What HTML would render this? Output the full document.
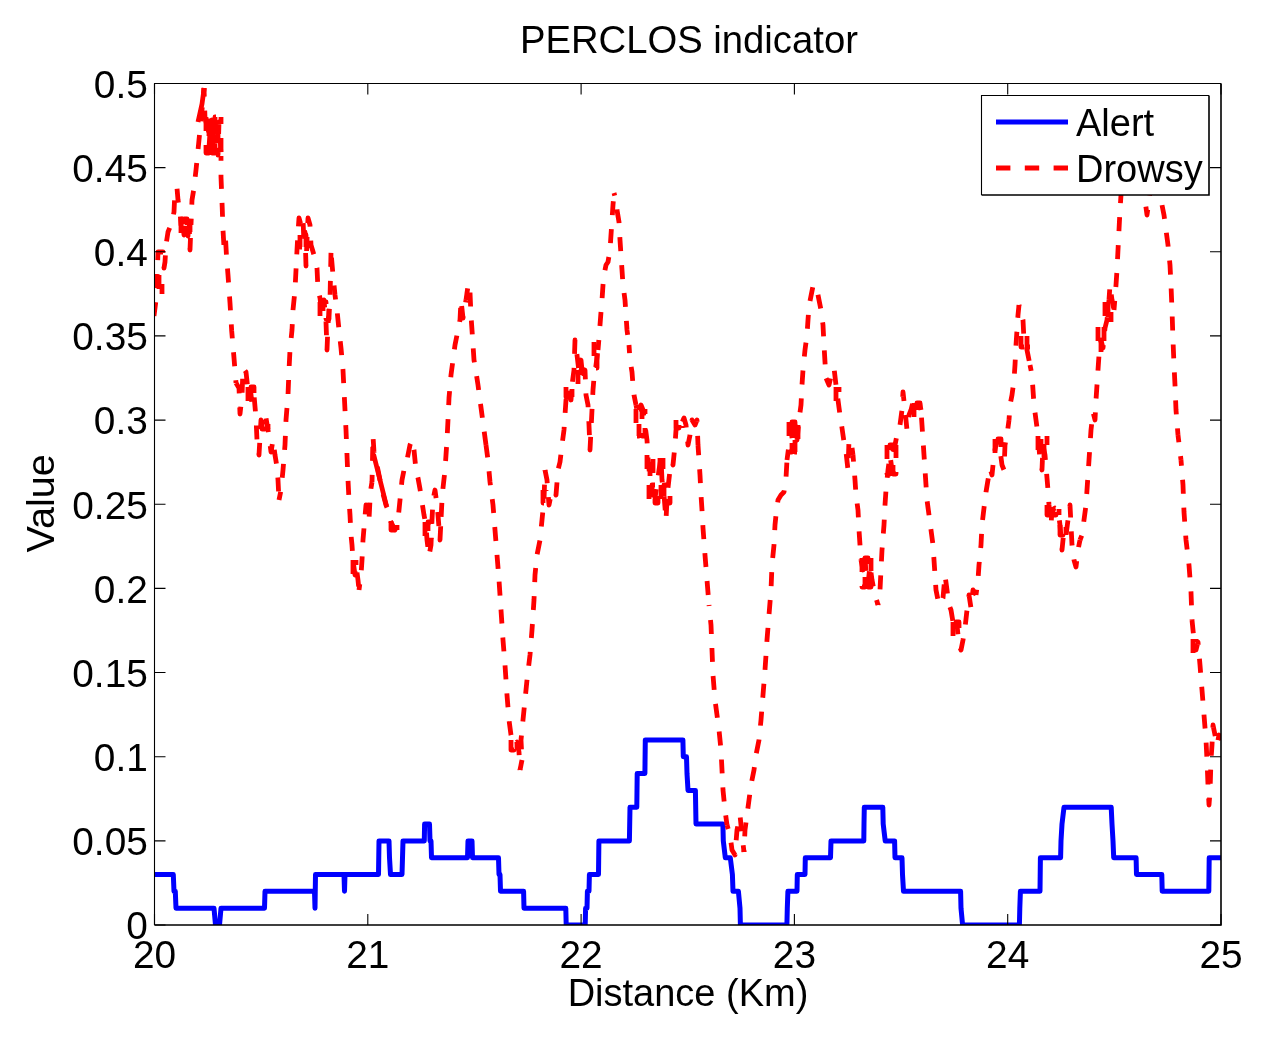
<!DOCTYPE html>
<html><head><meta charset="utf-8"><style>html,body{margin:0;padding:0;background:#fff;overflow:hidden}svg{display:block;will-change:transform}</style></head>
<body><svg width="1266" height="1040" viewBox="0 0 1266 1040">
<rect width="1266" height="1040" fill="#fff"/>
<defs><clipPath id="c"><rect x="154.5" y="83.5" width="1066.5" height="841.5"/></clipPath></defs><g clip-path="url(#c)">
<path d="M154.0,874.5 L173.3,874.5 L174.0,891.3 L175.3,891.3 L176.0,908.2 L214.0,908.2 L215.5,925.0 L219.5,925.0 L221.0,908.2 L264.5,908.2 L265.0,891.3 L314.5,891.3 L315.0,908.2 L315.5,874.5 L344.0,874.5 L344.5,891.3 L345.0,874.5 L378.5,874.5 L379.0,840.9 L389.0,840.9 L389.5,857.7 L390.5,874.5 L402.0,874.5 L402.5,857.7 L403.0,840.9 L424.3,840.9 L424.6,824.0 L429.5,824.0 L430.0,840.9 L431.0,840.9 L431.5,857.7 L467.5,857.7 L468.0,840.9 L472.0,840.9 L472.5,857.7 L498.5,857.7 L499.0,874.5 L500.0,874.5 L500.5,891.3 L523.6,891.3 L524.0,908.2 L565.8,908.2 L566.2,925.0 L585.2,925.0 L585.6,908.2 L587.0,908.2 L587.4,891.3 L589.0,891.3 L589.4,874.5 L598.5,874.5 L598.9,840.9 L629.4,840.9 L630.0,807.2 L636.8,807.2 L637.2,773.5 L644.9,773.5 L645.3,739.9 L682.9,739.9 L683.3,756.7 L686.5,756.7 L687.0,773.5 L688.0,790.4 L695.4,790.4 L696.0,824.0 L722.9,824.0 L723.3,840.9 L725.3,857.7 L730.3,857.7 L732.4,874.5 L733.0,891.3 L738.4,891.3 L740.0,908.2 L740.4,925.0 L786.9,925.0 L787.3,908.2 L787.9,891.3 L797.0,891.3 L797.3,874.5 L805.0,874.5 L805.3,857.7 L830.5,857.7 L831.0,840.9 L863.8,840.9 L864.0,824.0 L864.3,807.2 L882.8,807.2 L883.2,824.0 L885.2,840.9 L894.6,840.9 L895.0,857.7 L902.0,857.7 L902.5,874.5 L903.5,891.3 L960.6,891.3 L961.0,908.2 L962.6,925.0 L1019.4,925.0 L1019.8,908.2 L1020.4,891.3 L1040.0,891.3 L1040.4,857.7 L1060.6,857.7 L1061.0,840.9 L1062.0,824.0 L1064.0,807.2 L1111.2,807.2 L1112.0,824.0 L1113.0,840.9 L1113.7,857.7 L1136.1,857.7 L1136.5,874.5 L1161.8,874.5 L1162.2,891.3 L1208.8,891.3 L1209.2,857.7 L1221.5,857.7" fill="none" stroke="#0000ff" stroke-width="5" stroke-linejoin="round" stroke-linecap="round"/>
<path d="M154.0,316.0 L156.0,300.0 L157.0,282.0 L158.0,252.0 L163.0,252.0 L164.0,268.0 L165.0,262.0 L166.0,245.0 L168.0,232.0 L172.0,222.0 L174.0,212.0 L175.0,190.0 L177.0,188.0 L178.0,200.0 L180.0,212.0 L181.0,225.0 L182.0,218.0 L184.0,235.0 L186.0,220.0 L188.0,236.0 L189.0,218.0 L190.0,250.0 L191.0,225.0" fill="none" stroke="#ff0000" stroke-width="4.8" stroke-dasharray="14 14" stroke-dashoffset="0.0" stroke-linejoin="round"/>
<path d="M191.0,225.0 L192.0,200.0 L194.0,188.0 L196.0,170.0 L198.0,150.0 L200.0,130.0 L202.0,110.0 L204.0,88.0" fill="none" stroke="#ff0000" stroke-width="4.8" stroke-dasharray="14 14" stroke-dashoffset="7.6" stroke-linejoin="round"/>
<path d="M204.0,88.0 L205.0,118.0 L207.0,126.0 L208.0,116.0 L209.0,148.0 L210.0,132.0 L211.0,150.0 L212.0,120.0 L213.0,145.0 L214.0,126.0 L215.0,150.0 L216.0,118.0 L217.0,140.0 L218.0,155.0 L219.0,122.0 L220.0,135.0 L221.0,156.0" fill="none" stroke="#ff0000" stroke-width="4.8" stroke-dasharray="14 14" stroke-dashoffset="5.3" stroke-linejoin="round"/>
<path d="M221.0,156.0 L221.0,177.0 L222.2,207.0 L223.0,230.0 L224.0,247.0 L225.5,238.0 L226.5,256.0 L228.0,275.0 L230.0,303.0 L231.7,331.0 L234.0,358.0 L236.0,383.0" fill="none" stroke="#ff0000" stroke-width="4.8" stroke-dasharray="14 14" stroke-dashoffset="9.2" stroke-linejoin="round"/>
<path d="M236.0,383.0 L239.0,388.0 L240.0,414.0 L242.0,396.0 L243.0,368.0 L246.0,372.0 L248.0,390.0 L250.0,385.0 L252.0,404.0 L254.0,395.0 L256.0,418.0 L257.0,440.0 L259.0,455.0 L261.0,420.0 L264.0,428.0 L266.0,418.0 L268.0,430.0 L269.0,436.0 L271.0,452.0 L273.0,440.0 L275.0,455.0 L277.0,467.0 L278.0,480.0 L279.0,500.0" fill="none" stroke="#ff0000" stroke-width="4.8" stroke-dasharray="14 14" stroke-dashoffset="2.8" stroke-linejoin="round"/>
<path d="M279.0,500.0 L281.0,490.0 L283.0,470.0 L285.0,445.0 L286.0,420.0 L288.0,395.0 L289.0,370.0 L290.0,350.0 L292.0,330.0 L293.0,310.0 L295.0,290.0 L296.0,270.0 L297.0,250.0 L298.0,232.0" fill="none" stroke="#ff0000" stroke-width="4.8" stroke-dasharray="14 14" stroke-dashoffset="5.5" stroke-linejoin="round"/>
<path d="M298.0,232.0 L299.0,218.0 L301.0,225.0 L303.0,218.0 L304.0,245.0 L305.0,232.0 L306.0,266.0 L307.0,240.0 L308.0,218.0 L310.0,225.0 L311.0,245.0 L314.0,255.0 L317.0,268.0 L318.0,290.0 L320.0,298.0 L322.0,315.0 L324.0,300.0 L326.0,322.0 L327.0,350.0 L328.0,325.0 L330.0,300.0 L331.0,252.0" fill="none" stroke="#ff0000" stroke-width="4.8" stroke-dasharray="14 14" stroke-dashoffset="22.3" stroke-linejoin="round"/>
<path d="M331.0,252.0 L333.0,275.0 L335.0,295.0 L337.0,310.0 L339.0,330.0 L341.0,348.0 L343.0,370.0 L344.0,390.0 L345.0,410.0 L346.0,430.0 L347.0,455.0 L348.0,480.0 L349.0,500.0 L350.0,515.0 L351.0,535.0 L352.0,545.0 L353.0,560.0 L355.0,575.0 L356.0,565.0" fill="none" stroke="#ff0000" stroke-width="4.8" stroke-dasharray="14 14" stroke-dashoffset="22.3" stroke-linejoin="round"/>
<path d="M356.0,565.0 L358.0,580.0 L359.0,590.0" fill="none" stroke="#ff0000" stroke-width="4.8" stroke-dasharray="14 14" stroke-dashoffset="20.4" stroke-linejoin="round"/>
<path d="M359.0,590.0 L361.0,575.0 L362.0,560.0 L363.0,540.0 L364.0,528.0 L366.0,505.0 L369.0,520.0 L370.0,500.0 L371.0,488.0 L372.0,482.0" fill="none" stroke="#ff0000" stroke-width="4.8" stroke-dasharray="14 14" stroke-dashoffset="8.1" stroke-linejoin="round"/>
<path d="M372.0,482.0 L373.0,436.0 L374.0,452.0 L378.0,470.0 L382.0,490.0 L386.0,505.0 L388.0,510.0 L390.0,520.0 L395.0,530.0 L398.0,520.0 L400.0,500.0 L402.0,480.0 L404.0,470.0 L407.0,460.0 L410.0,445.0 L412.0,440.0 L414.0,450.0 L416.0,470.0 L418.0,478.0 L420.0,489.0 L422.0,502.0 L424.0,515.0 L426.0,525.0 L427.0,540.0 L429.0,556.0 L431.0,545.0 L432.0,520.0 L433.0,500.0 L435.0,490.0 L437.0,505.0 L438.0,515.0 L440.0,540.0 L441.0,520.0" fill="none" stroke="#ff0000" stroke-width="4.8" stroke-dasharray="14 14" stroke-dashoffset="6.9" stroke-linejoin="round"/>
<path d="M441.0,520.0 L442.0,500.0 L443.0,488.0 L445.0,470.0 L446.0,455.0 L447.0,440.0 L448.0,420.0 L449.0,398.0 L451.0,375.0 L453.0,360.0 L455.0,345.0 L458.0,330.0 L460.0,320.0 L461.0,300.0 L463.0,318.0 L466.0,300.0" fill="none" stroke="#ff0000" stroke-width="4.8" stroke-dasharray="14 14" stroke-dashoffset="24.8" stroke-linejoin="round"/>
<path d="M466.0,300.0 L468.0,286.0 L470.0,292.0" fill="none" stroke="#ff0000" stroke-width="4.8" stroke-dasharray="14 14" stroke-dashoffset="2.3" stroke-linejoin="round"/>
<path d="M470.0,292.0 L471.0,316.0 L472.0,330.0 L473.0,345.0 L474.0,360.0 L476.0,372.0 L478.0,385.0 L480.0,400.0 L482.0,415.0 L484.0,430.0 L486.0,445.0" fill="none" stroke="#ff0000" stroke-width="4.8" stroke-dasharray="14 14" stroke-dashoffset="27.5" stroke-linejoin="round"/>
<path d="M486.0,445.0 L488.0,460.0 L490.0,482.0 L493.0,505.0 L495.0,530.0 L497.0,555.0 L499.0,580.0" fill="none" stroke="#ff0000" stroke-width="4.8" stroke-dasharray="14 14" stroke-dashoffset="1.5" stroke-linejoin="round"/>
<path d="M499.0,580.0 L501.0,610.0 L503.0,640.0 L505.0,665.0 L507.0,695.0 L509.0,720.0 L511.0,735.0 L514.0,745.0 L517.0,742.0 L519.0,752.0 L520.0,770.0" fill="none" stroke="#ff0000" stroke-width="4.8" stroke-dasharray="14 14" stroke-dashoffset="26.4" stroke-linejoin="round"/>
<path d="M520.0,770.0 L522.0,760.0" fill="none" stroke="#ff0000" stroke-width="4.8" stroke-dasharray="14 14" stroke-dashoffset="0.8" stroke-linejoin="round"/>
<path d="M522.0,760.0 L521.0,740.0 L523.0,720.0 L525.0,700.0 L527.0,680.0 L530.0,655.0 L532.0,630.0 L534.0,600.0 L535.0,575.0 L537.0,555.0 L540.0,540.0 L542.0,520.0 L544.0,500.0 L545.0,470.0" fill="none" stroke="#ff0000" stroke-width="4.8" stroke-dasharray="14 14" stroke-dashoffset="17.4" stroke-linejoin="round"/>
<path d="M545.0,470.0 L547.0,480.0 L549.0,505.0 L551.0,495.0 L554.0,490.0 L556.0,495.0 L558.0,470.0 L560.0,462.0 L562.0,445.0 L564.0,430.0 L565.0,415.0 L566.0,400.0 L567.0,392.0 L569.0,388.0 L571.0,400.0 L572.0,385.0 L574.0,370.0 L575.0,340.0 L577.0,355.0 L579.0,372.0 L581.0,360.0 L583.0,380.0 L585.0,370.0 L586.0,395.0 L588.0,405.0 L589.0,425.0 L590.0,450.0 L591.0,430.0 L592.0,410.0 L593.0,390.0 L594.0,378.0 L596.0,365.0 L598.0,350.0" fill="none" stroke="#ff0000" stroke-width="4.8" stroke-dasharray="14 14" stroke-dashoffset="0.6" stroke-linejoin="round"/>
<path d="M598.0,350.0 L599.0,338.0 L600.0,325.0 L601.0,312.0 L602.0,300.0 L603.0,285.0 L604.0,275.0 L606.0,265.0 L608.0,262.0 L610.0,250.0 L611.0,235.0 L612.0,220.0 L613.0,205.0 L614.0,193.0" fill="none" stroke="#ff0000" stroke-width="4.8" stroke-dasharray="14 14" stroke-dashoffset="3.9" stroke-linejoin="round"/>
<path d="M614.0,193.0 L616.0,200.0 L617.0,210.0 L619.0,222.0 L620.0,240.0 L621.0,255.0 L622.0,270.0 L623.0,285.0 L625.0,300.0 L626.0,315.0 L627.0,330.0 L629.0,345.0" fill="none" stroke="#ff0000" stroke-width="4.8" stroke-dasharray="14 14" stroke-dashoffset="11.3" stroke-linejoin="round"/>
<path d="M629.0,345.0 L630.0,360.0 L632.0,372.0 L633.0,385.0 L634.0,395.0 L636.0,405.0" fill="none" stroke="#ff0000" stroke-width="4.8" stroke-dasharray="14 14" stroke-dashoffset="5.9" stroke-linejoin="round"/>
<path d="M636.0,405.0 L638.0,415.0 L641.0,405.0 L643.0,410.0 L645.0,425.0 L647.0,440.0 L648.0,458.0 L650.0,480.0 L651.0,495.0 L653.0,485.0 L655.0,498.0 L657.0,485.0 L659.0,470.0 L661.0,458.0 L662.0,480.0 L664.0,495.0 L666.0,520.0 L667.0,500.0 L668.0,488.0 L670.0,470.0 L672.0,462.0 L673.0,465.0 L675.0,445.0 L676.0,430.0 L678.0,420.0 L681.0,425.0 L684.0,418.0 L686.0,425.0 L688.0,445.0 L690.0,435.0 L692.0,420.0 L695.0,425.0 L697.0,420.0 L698.0,445.0" fill="none" stroke="#ff0000" stroke-width="4.8" stroke-dasharray="14 14" stroke-dashoffset="10.3" stroke-linejoin="round"/>
<path d="M698.0,445.0 L699.0,460.0 L700.0,475.0 L701.0,495.0 L702.0,510.0 L703.0,528.0 L705.0,555.0 L707.0,580.0 L709.0,605.0" fill="none" stroke="#ff0000" stroke-width="4.8" stroke-dasharray="14 14" stroke-dashoffset="3.7" stroke-linejoin="round"/>
<path d="M709.0,605.0 L711.0,625.0 L712.0,650.0 L713.0,675.0 L715.0,700.0 L717.0,715.0 L719.0,730.0 L721.0,750.0 L722.0,770.0 L723.0,790.0 L725.0,810.0 L727.0,825.0" fill="none" stroke="#ff0000" stroke-width="4.8" stroke-dasharray="14 14" stroke-dashoffset="12.9" stroke-linejoin="round"/>
<path d="M727.0,825.0 L730.0,835.0 L732.0,850.0 L735.0,855.0 L737.0,830.0 L740.0,815.0 L742.0,835.0 L744.0,852.0" fill="none" stroke="#ff0000" stroke-width="4.8" stroke-dasharray="14 14" stroke-dashoffset="9.8" stroke-linejoin="round"/>
<path d="M744.0,852.0 L745.0,830.0 L747.0,815.0 L749.0,800.0 L751.0,785.0 L754.0,770.0 L756.0,755.0 L759.0,740.0 L761.0,720.0 L763.0,695.0 L765.0,670.0 L767.0,640.0 L769.0,615.0 L771.0,590.0 L772.0,565.0 L774.0,545.0 L775.0,525.0 L776.0,515.0" fill="none" stroke="#ff0000" stroke-width="4.8" stroke-dasharray="14 14" stroke-dashoffset="12.4" stroke-linejoin="round"/>
<path d="M776.0,515.0 L778.0,500.0 L781.0,495.0 L784.0,492.0 L786.0,478.0 L787.0,460.0" fill="none" stroke="#ff0000" stroke-width="4.8" stroke-dasharray="14 14" stroke-dashoffset="15.2" stroke-linejoin="round"/>
<path d="M787.0,460.0 L789.0,445.0 L791.0,430.0 L793.0,445.0 L795.0,425.0 L797.0,440.0 L799.0,420.0 L801.0,405.0 L802.0,385.0 L803.0,370.0 L805.0,350.0 L807.0,335.0 L808.0,320.0 L809.0,306.0 L811.0,296.0 L813.0,286.0" fill="none" stroke="#ff0000" stroke-width="4.8" stroke-dasharray="14 14" stroke-dashoffset="3.6" stroke-linejoin="round"/>
<path d="M813.0,286.0 L815.0,285.0 L817.0,290.0" fill="none" stroke="#ff0000" stroke-width="4.8" stroke-dasharray="14 14" stroke-dashoffset="15.2" stroke-linejoin="round"/>
<path d="M817.0,290.0 L819.0,300.0 L821.0,310.0 L823.0,325.0 L824.0,345.0 L825.0,362.0 L826.0,378.0 L829.0,385.0 L832.0,372.0 L834.0,368.0 L836.0,385.0 L838.0,400.0 L840.0,415.0 L842.0,428.0 L844.0,442.0 L846.0,452.0 L848.0,470.0" fill="none" stroke="#ff0000" stroke-width="4.8" stroke-dasharray="14 14" stroke-dashoffset="23.1" stroke-linejoin="round"/>
<path d="M848.0,470.0 L849.0,440.0 L851.0,440.0 L853.0,455.0" fill="none" stroke="#ff0000" stroke-width="4.8" stroke-dasharray="14 14" stroke-dashoffset="16.1" stroke-linejoin="round"/>
<path d="M853.0,455.0 L855.0,480.0 L856.0,495.0 L858.0,510.0 L859.0,530.0 L860.0,545.0 L861.0,560.0" fill="none" stroke="#ff0000" stroke-width="4.8" stroke-dasharray="14 14" stroke-dashoffset="7.3" stroke-linejoin="round"/>
<path d="M861.0,560.0 L863.0,570.0 L865.0,555.0 L866.0,575.0 L868.0,585.0 L870.0,565.0 L872.0,580.0 L874.0,590.0 L876.0,598.0 L878.0,605.0" fill="none" stroke="#ff0000" stroke-width="4.8" stroke-dasharray="14 14" stroke-dashoffset="0.7" stroke-linejoin="round"/>
<path d="M878.0,605.0 L880.0,590.0 L881.0,570.0 L882.0,550.0 L884.0,525.0 L885.0,505.0 L886.0,490.0 L888.0,470.0 L890.0,455.0" fill="none" stroke="#ff0000" stroke-width="4.8" stroke-dasharray="14 14" stroke-dashoffset="12.3" stroke-linejoin="round"/>
<path d="M890.0,455.0 L892.0,470.0 L894.0,450.0 L896.0,440.0 L898.0,430.0 L900.0,425.0 L902.0,410.0 L903.0,392.0 L905.0,410.0 L907.0,430.0 L909.0,415.0 L911.0,410.0 L913.0,402.0 L916.0,405.0 L919.0,400.0 L921.0,410.0" fill="none" stroke="#ff0000" stroke-width="4.8" stroke-dasharray="14 14" stroke-dashoffset="22.8" stroke-linejoin="round"/>
<path d="M921.0,410.0 L922.0,425.0 L923.0,440.0 L924.0,455.0 L925.0,470.0 L926.0,485.0 L927.0,500.0 L929.0,515.0 L931.0,530.0 L933.0,545.0 L934.0,560.0 L935.0,575.0 L936.0,590.0 L938.0,600.0" fill="none" stroke="#ff0000" stroke-width="4.8" stroke-dasharray="14 14" stroke-dashoffset="20.4" stroke-linejoin="round"/>
<path d="M938.0,600.0 L940.0,605.0 L943.0,598.0 L945.0,575.0 L947.0,590.0 L949.0,605.0 L951.0,610.0 L953.0,622.0 L955.0,632.0 L957.0,625.0 L959.0,645.0 L961.0,650.0 L963.0,640.0 L965.0,628.0 L967.0,610.0 L969.0,595.0 L971.0,608.0 L973.0,590.0 L976.0,595.0" fill="none" stroke="#ff0000" stroke-width="4.8" stroke-dasharray="14 14" stroke-dashoffset="15.3" stroke-linejoin="round"/>
<path d="M976.0,595.0 L978.0,580.0 L979.0,565.0 L981.0,545.0 L982.0,525.0 L984.0,508.0 L986.0,492.0 L988.0,480.0 L990.0,468.0" fill="none" stroke="#ff0000" stroke-width="4.8" stroke-dasharray="14 14" stroke-dashoffset="8.7" stroke-linejoin="round"/>
<path d="M990.0,468.0 L992.0,475.0 L994.0,455.0 L996.0,445.0 L998.0,440.0 L1000.0,450.0 L1002.0,465.0 L1004.0,470.0 L1005.0,445.0 L1007.0,435.0 L1009.0,420.0" fill="none" stroke="#ff0000" stroke-width="4.8" stroke-dasharray="14 14" stroke-dashoffset="24.6" stroke-linejoin="round"/>
<path d="M1009.0,420.0 L1010.0,405.0 L1012.0,395.0 L1014.0,380.0 L1015.0,365.0 L1016.0,345.0 L1017.0,330.0 L1018.0,315.0 L1019.0,305.0" fill="none" stroke="#ff0000" stroke-width="4.8" stroke-dasharray="14 14" stroke-dashoffset="9.3" stroke-linejoin="round"/>
<path d="M1019.0,305.0 L1021.0,312.0 L1023.0,320.0 L1024.0,340.0 L1026.0,345.0 L1028.0,355.0 L1030.0,365.0" fill="none" stroke="#ff0000" stroke-width="4.8" stroke-dasharray="14 14" stroke-dashoffset="12.9" stroke-linejoin="round"/>
<path d="M1030.0,365.0 L1032.0,375.0 L1033.0,390.0 L1034.0,405.0 L1036.0,420.0 L1038.0,435.0 L1040.0,460.0" fill="none" stroke="#ff0000" stroke-width="4.8" stroke-dasharray="14 14" stroke-dashoffset="8.0" stroke-linejoin="round"/>
<path d="M1040.0,460.0 L1042.0,470.0 L1043.0,445.0 L1045.0,455.0 L1047.0,478.0 L1048.0,490.0 L1049.0,505.0 L1051.0,525.0 L1052.0,510.0 L1055.0,508.0 L1058.0,510.0 L1060.0,525.0 L1062.0,550.0 L1064.0,530.0 L1066.0,535.0 L1068.0,520.0 L1070.0,505.0 L1071.0,525.0 L1072.0,545.0 L1074.0,560.0 L1076.0,567.0 L1078.0,550.0 L1080.0,540.0" fill="none" stroke="#ff0000" stroke-width="4.8" stroke-dasharray="14 14" stroke-dashoffset="19.6" stroke-linejoin="round"/>
<path d="M1080.0,540.0 L1082.0,535.0 L1084.0,520.0 L1086.0,505.0 L1087.0,490.0 L1088.0,475.0 L1089.0,460.0 L1090.0,445.0 L1091.0,430.0 L1093.0,412.0" fill="none" stroke="#ff0000" stroke-width="4.8" stroke-dasharray="14 14" stroke-dashoffset="9.3" stroke-linejoin="round"/>
<path d="M1093.0,412.0 L1095.0,420.0 L1096.0,400.0 L1097.0,385.0 L1098.0,370.0 L1099.0,355.0 L1101.0,340.0 L1103.0,348.0 L1105.0,328.0 L1107.0,320.0 L1109.0,300.0 L1110.0,285.0 L1112.0,300.0 L1114.0,310.0" fill="none" stroke="#ff0000" stroke-width="4.8" stroke-dasharray="14 14" stroke-dashoffset="26.2" stroke-linejoin="round"/>
<path d="M1114.0,310.0 L1116.0,285.0 L1117.0,270.0 L1118.0,250.0 L1119.0,230.0 L1120.0,210.0 L1121.0,195.0 L1122.0,180.0" fill="none" stroke="#ff0000" stroke-width="4.8" stroke-dasharray="14 14" stroke-dashoffset="4.9" stroke-linejoin="round"/>
<path d="M1122.0,180.0 L1125.0,175.0 L1130.0,170.0 L1135.0,175.0 L1140.0,172.0 L1143.0,185.0 L1145.0,200.0 L1147.0,215.0 L1149.0,200.0 L1151.0,185.0 L1155.0,175.0 L1158.0,180.0 L1160.0,195.0" fill="none" stroke="#ff0000" stroke-width="4.8" stroke-dasharray="14 14" stroke-dashoffset="23.1" stroke-linejoin="round"/>
<path d="M1160.0,195.0 L1162.0,205.0 L1164.0,215.0 L1166.0,230.0 L1168.0,245.0 L1170.0,265.0 L1171.0,285.0 L1172.0,310.0 L1173.0,340.0 L1174.0,365.0 L1175.0,385.0 L1176.0,410.0 L1178.0,435.0" fill="none" stroke="#ff0000" stroke-width="4.8" stroke-dasharray="14 14" stroke-dashoffset="17.7" stroke-linejoin="round"/>
<path d="M1178.0,435.0 L1181.0,460.0" fill="none" stroke="#ff0000" stroke-width="4.8" stroke-dasharray="14 14" stroke-dashoffset="6.7" stroke-linejoin="round"/>
<path d="M1181.0,460.0 L1183.0,485.0 L1184.0,512.0 L1186.0,540.0 L1189.0,565.0 L1191.0,592.0 L1192.0,620.0" fill="none" stroke="#ff0000" stroke-width="4.8" stroke-dasharray="14 14" stroke-dashoffset="8.2" stroke-linejoin="round"/>
<path d="M1192.0,620.0 L1194.0,640.0 L1196.0,650.0 L1198.0,642.0 L1200.0,665.0 L1202.0,690.0 L1204.0,715.0 L1206.0,740.0 L1207.0,760.0 L1208.0,785.0 L1209.0,805.0 L1210.0,792.0 L1211.0,760.0 L1212.0,745.0 L1213.0,725.0 L1215.0,735.0 L1217.0,745.0 L1219.0,735.0 L1221.5,740.0" fill="none" stroke="#ff0000" stroke-width="4.8" stroke-dasharray="14 14" stroke-dashoffset="0.6" stroke-linejoin="round"/>
<path d="M373.5,454.0 L380.0,480.0 L386.5,506.0 M198.0,122.0 L202.0,104.0 L204.2,88.0" fill="none" stroke="#ff0000" stroke-width="4.8" stroke-linejoin="round"/>
<path d="M156.0,274.0 L156.0,294.0 L159.0,294.0 L159.0,274.0 L162.0,274.0 L162.0,294.0 M181.0,219.0 L181.0,234.0 L184.0,234.0 L184.0,219.0 L187.0,219.0 L187.0,234.0 L190.0,234.0 L190.0,219.0 M206.0,117.0 L206.0,153.0 L209.0,153.0 L209.0,117.0 L212.0,117.0 L212.0,153.0 L215.0,153.0 L215.0,117.0 L218.0,117.0 L218.0,153.0 L221.0,153.0 L221.0,117.0 M248.0,387.0 L248.0,402.0 L251.0,402.0 L251.0,387.0 L254.0,387.0 L254.0,402.0 M262.0,420.0 L262.0,429.0 L265.0,429.0 L265.0,420.0 L268.0,420.0 L268.0,429.0 M300.0,235.0 L300.0,247.0 L303.0,247.0 L303.0,235.0 L306.0,235.0 L306.0,247.0 M320.0,302.0 L320.0,319.0 L323.0,319.0 L323.0,302.0 L326.0,302.0 L326.0,319.0 L329.0,319.0 L329.0,302.0 M353.0,560.0 L353.0,575.0 L356.0,575.0 L356.0,560.0 M391.0,521.0 L391.0,530.0 L394.0,530.0 L394.0,521.0 L397.0,521.0 L397.0,530.0 M425.0,522.0 L425.0,539.0 L428.0,539.0 L428.0,522.0 L431.0,522.0 L431.0,539.0 M511.0,740.0 L511.0,750.0 L514.0,750.0 L514.0,740.0 L517.0,740.0 L517.0,750.0 M543.0,490.0 L543.0,503.0 L546.0,503.0 L546.0,490.0 M566.0,387.0 L566.0,397.0 L569.0,397.0 L569.0,387.0 L572.0,387.0 L572.0,397.0 M578.0,370.0 L578.0,385.0 L581.0,385.0 L581.0,370.0 L584.0,370.0 L584.0,385.0 M594.0,342.0 L594.0,368.0 L597.0,368.0 L597.0,342.0 M636.0,409.0 L636.0,436.0 L639.0,436.0 L639.0,409.0 L642.0,409.0 L642.0,436.0 L645.0,436.0 L645.0,409.0 M647.0,455.0 L647.0,478.0 L650.0,478.0 L650.0,455.0 L653.0,455.0 L653.0,478.0 M649.0,485.0 L649.0,503.0 L652.0,503.0 L652.0,485.0 L655.0,485.0 L655.0,503.0 L658.0,503.0 L658.0,485.0 L661.0,485.0 L661.0,503.0 L664.0,503.0 L664.0,485.0 L667.0,485.0 L667.0,503.0 L670.0,503.0 L670.0,485.0 M660.0,458.0 L660.0,476.0 L663.0,476.0 L663.0,458.0 M676.0,420.0 L676.0,428.0 L679.0,428.0 L679.0,420.0 L682.0,420.0 L682.0,428.0 M789.0,422.0 L789.0,452.0 L792.0,452.0 L792.0,422.0 L795.0,422.0 L795.0,452.0 L798.0,452.0 L798.0,422.0 M836.0,387.0 L836.0,402.0 L839.0,402.0 L839.0,387.0 M862.0,558.0 L862.0,587.0 L865.0,587.0 L865.0,558.0 L868.0,558.0 L868.0,587.0 L871.0,587.0 L871.0,558.0 M887.0,445.0 L887.0,474.0 L890.0,474.0 L890.0,445.0 L893.0,445.0 L893.0,474.0 L896.0,474.0 L896.0,445.0 M914.0,403.0 L914.0,419.0 L917.0,419.0 L917.0,403.0 L920.0,403.0 L920.0,419.0 M953.0,622.0 L953.0,637.0 L956.0,637.0 L956.0,622.0 L959.0,622.0 L959.0,637.0 M995.0,439.0 L995.0,453.0 L998.0,453.0 L998.0,439.0 L1001.0,439.0 L1001.0,453.0 M1021.0,336.0 L1021.0,347.0 L1024.0,347.0 L1024.0,336.0 L1027.0,336.0 L1027.0,347.0 L1030.0,347.0 L1030.0,336.0 M1038.0,436.0 L1038.0,457.0 L1041.0,457.0 L1041.0,436.0 L1044.0,436.0 L1044.0,457.0 L1047.0,457.0 L1047.0,436.0 M1047.0,505.0 L1047.0,515.0 L1050.0,515.0 L1050.0,505.0 L1053.0,505.0 L1053.0,515.0 L1056.0,515.0 L1056.0,505.0 L1059.0,505.0 L1059.0,515.0 M1060.0,525.0 L1060.0,535.0 L1063.0,535.0 L1063.0,525.0 L1066.0,525.0 L1066.0,535.0 M1098.0,327.0 L1098.0,352.0 L1101.0,352.0 L1101.0,327.0 L1104.0,327.0 L1104.0,352.0 M1105.0,302.0 L1105.0,322.0 L1108.0,322.0 L1108.0,302.0 L1111.0,302.0 L1111.0,322.0 M1193.0,639.0 L1193.0,653.0 L1196.0,653.0 L1196.0,639.0" fill="none" stroke="#ff0000" stroke-width="4.8" stroke-dasharray="14 14" stroke-linejoin="round"/>
</g>
<path d="M154.5,925.0V83.5H1221.0" fill="none" stroke="#000" stroke-width="1.1"/>
<path d="M1221.0,83.5V925.0H154.5" fill="none" stroke="#000" stroke-width="1.6"/>
<path d="M154.5,925.0V914.0M154.5,83.5V94.5M367.8,925.0V914.0M367.8,83.5V94.5M581.1,925.0V914.0M581.1,83.5V94.5M794.4,925.0V914.0M794.4,83.5V94.5M1007.7,925.0V914.0M1007.7,83.5V94.5M1221.0,925.0V914.0M1221.0,83.5V94.5M154.5,925.0H165.5M1221.0,925.0H1210.0M154.5,840.9H165.5M1221.0,840.9H1210.0M154.5,756.7H165.5M1221.0,756.7H1210.0M154.5,672.5H165.5M1221.0,672.5H1210.0M154.5,588.4H165.5M1221.0,588.4H1210.0M154.5,504.2H165.5M1221.0,504.2H1210.0M154.5,420.1H165.5M1221.0,420.1H1210.0M154.5,335.9H165.5M1221.0,335.9H1210.0M154.5,251.8H165.5M1221.0,251.8H1210.0M154.5,167.6H165.5M1221.0,167.6H1210.0M154.5,83.5H165.5M1221.0,83.5H1210.0" stroke="#000" stroke-width="1.1" fill="none"/>
<g font-family="Liberation Sans, sans-serif" font-size="38.8" fill="#000"><text x="154.5" y="968" text-anchor="middle">20</text><text x="367.8" y="968" text-anchor="middle">21</text><text x="581.1" y="968" text-anchor="middle">22</text><text x="794.4" y="968" text-anchor="middle">23</text><text x="1007.7" y="968" text-anchor="middle">24</text><text x="1221.0" y="968" text-anchor="middle">25</text><text x="147.8" y="939.2" text-anchor="end">0</text><text x="147.8" y="855.1" text-anchor="end">0.05</text><text x="147.8" y="770.9" text-anchor="end">0.1</text><text x="147.8" y="686.8" text-anchor="end">0.15</text><text x="147.8" y="602.6" text-anchor="end">0.2</text><text x="147.8" y="518.5" text-anchor="end">0.25</text><text x="147.8" y="434.3" text-anchor="end">0.3</text><text x="147.8" y="350.1" text-anchor="end">0.35</text><text x="147.8" y="266.0" text-anchor="end">0.4</text><text x="147.8" y="181.8" text-anchor="end">0.45</text><text x="147.8" y="97.7" text-anchor="end">0.5</text></g>
<text x="688.9" y="53" text-anchor="middle" font-family="Liberation Sans, sans-serif" font-size="38.25">PERCLOS indicator</text>
<text x="688" y="1006.3" text-anchor="middle" font-family="Liberation Sans, sans-serif" font-size="38">Distance (Km)</text>
<text transform="translate(54.2,503.4) rotate(-90)" text-anchor="middle" font-family="Liberation Sans, sans-serif" font-size="39.6">Value</text>
<rect x="981.5" y="95.5" width="227.5" height="99.5" fill="#fff" stroke="none"/>
<path d="M981.5,195V95.5H1209" fill="none" stroke="#000" stroke-width="1.1"/>
<path d="M1209,95.5V195H981.5" fill="none" stroke="#000" stroke-width="1.6"/>
<path d="M996,122H1068" stroke="#0000ff" stroke-width="5"/>
<path d="M996,168H1068" stroke="#ff0000" stroke-width="5" stroke-dasharray="14.4 14.4"/>
<text x="1076" y="136" font-family="Liberation Sans, sans-serif" font-size="38">Alert</text>
<text x="1076" y="182" font-family="Liberation Sans, sans-serif" font-size="38">Drowsy</text>
</svg></body></html>
